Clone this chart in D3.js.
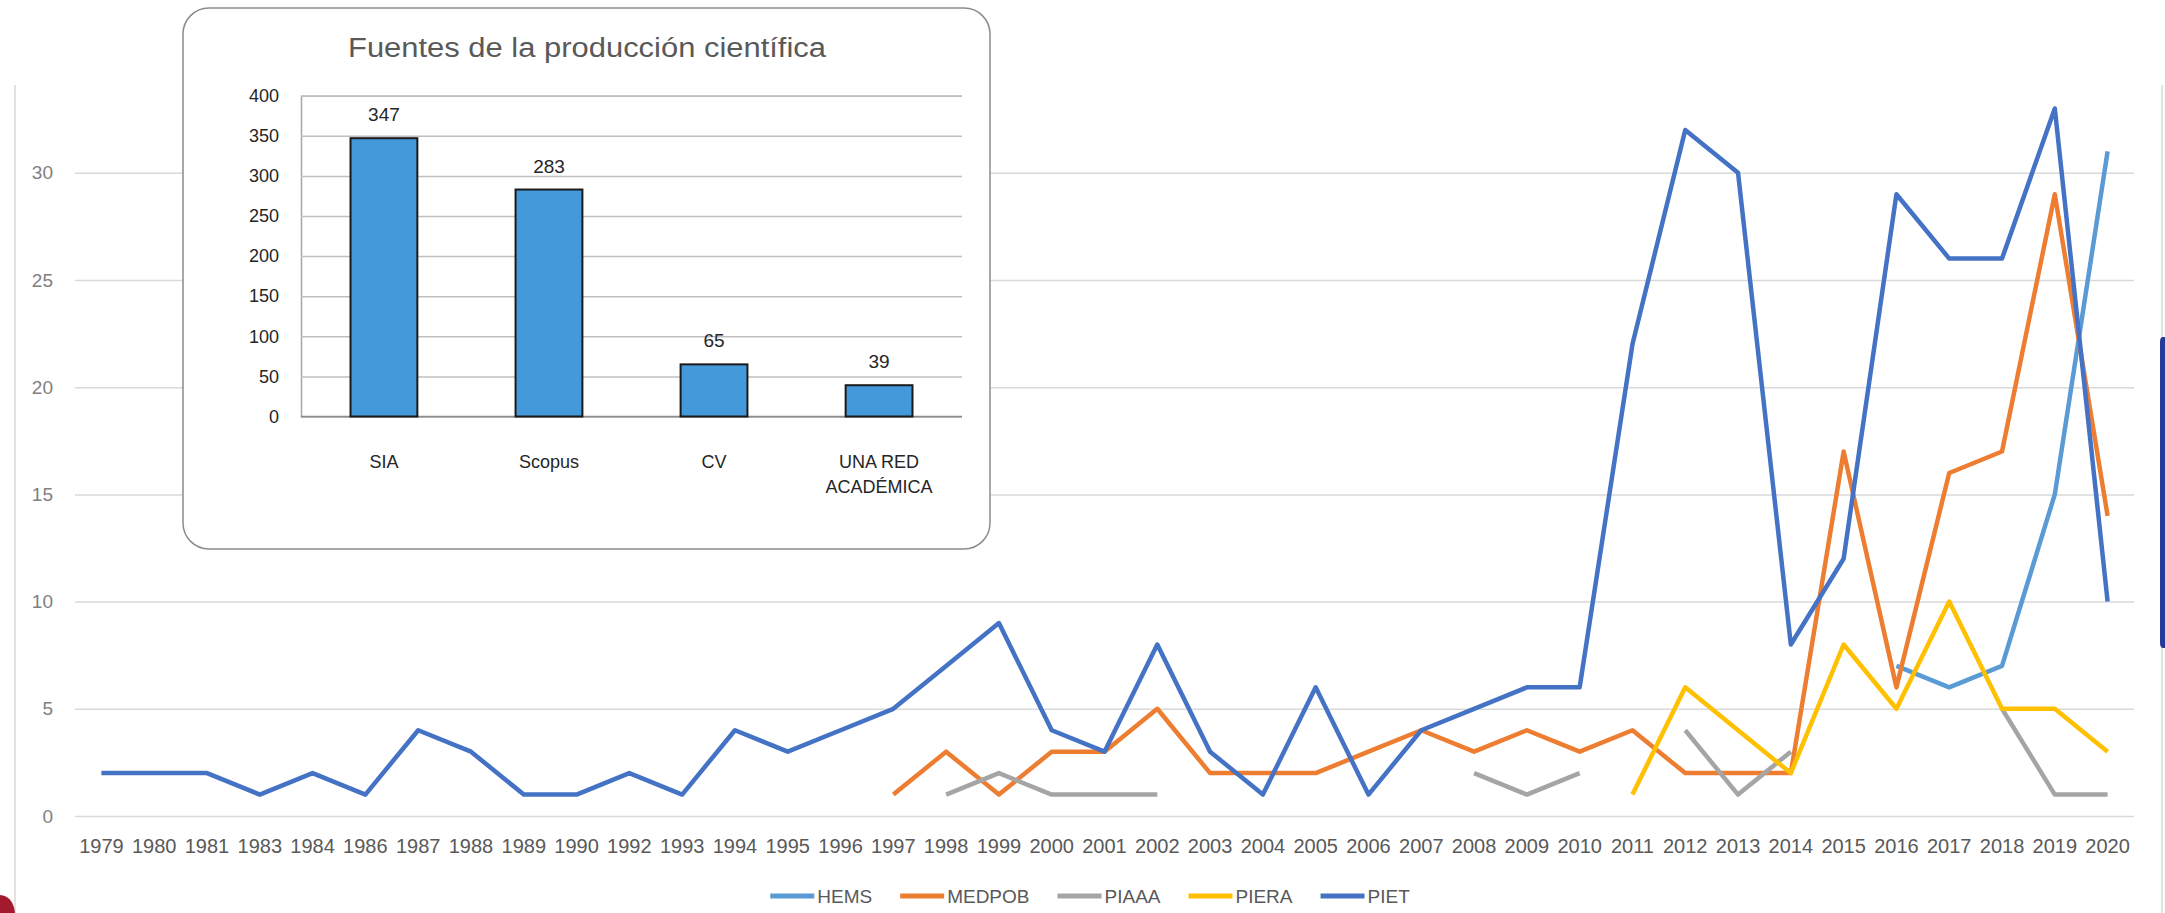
<!DOCTYPE html>
<html>
<head>
<meta charset="utf-8">
<script src="https://cdn.jsdelivr.net/npm/d3@7"></script>
<style>
  body { margin: 0; background: #fff; }
  svg { display: block; }
  text { font-family: "Liberation Sans", Arial, sans-serif; }
</style>
</head>
<body>
<svg id="chart" width="2165" height="913"></svg>
<script>
// ---------- DATA ----------
const years = ["1979","1980","1981","1983","1984","1986","1987","1988","1989","1990",
  "1992","1993","1994","1995","1996","1997","1998","1999","2000","2001","2002","2003",
  "2004","2005","2006","2007","2008","2009","2010","2011","2012","2013","2014","2015",
  "2016","2017","2018","2019","2020"];
const N = null;
const HEMS   = [N,N,N,N,N,N,N,N,N,N, N,N,N,N,N,N,N,N,N,N, N,N,N,N,N,N,N,N,N,N, N,N,N,N, 7,6,7,15,31];
const MEDPOB = [N,N,N,N,N,N,N,N,N,N, N,N,N,N,N, 1,3,1,3,3, 5,2,2,2,3, 4,3,4,3,4, 2,2,2,17,6, 16,17,29,14];
const PIAAA  = [N,N,N,N,N,N,N,N,N,N, N,N,N,N,N,N, 1,2,1,1, 1,N,N,N,N, N,2,1,2,N, 4,1,3,N,N, N,5,1,1];
const PIERA  = [N,N,N,N,N,N,N,N,N,N, N,N,N,N,N,N,N,N,N,N, N,N,N,N,N, N,N,N,N,1, 6,4,2,8,5, 10,5,5,3];
const PIET   = [2,2,2,1,2,1,4,3,1,1, 2,1,4,3,4,5,7,9,4,3, 8,3,1,6,1, 4,5,6,6,22, 32,30,8,12,29, 26,26,33,10];
const seriesNames  = ["HEMS","MEDPOB","PIAAA","PIERA","PIET"];
const seriesValues = [HEMS, MEDPOB, PIAAA, PIERA, PIET];
const seriesColors = ["#5B9BD5","#ED7D31","#A5A5A5","#FFC000","#4472C4"];
const yTicks = [0,5,10,15,20,25,30];

// inset bar chart
const insetTitle = "Fuentes de la producción científica";
const insetCats = ["SIA","Scopus","CV","UNA RED ACADÉMICA"];
const insetVals = [347, 283, 65, 39];
const insetTicks = [0,50,100,150,200,250,300,350,400];

// ---------- DRAW ----------
const svg = d3.select("#chart");

// page decorations (slide edges)
svg.append("line").attr("x1",15).attr("x2",15).attr("y1",85).attr("y2",913)
  .attr("stroke","#d9d9d9").attr("stroke-width",1.5);
svg.append("line").attr("x1",2162).attr("x2",2162).attr("y1",85).attr("y2",913)
  .attr("stroke","#d9d9d9").attr("stroke-width",1.5);
svg.append("path").attr("d","M0,895 Q13,896 15,913 L0,913 Z").attr("fill","#a3192d");
svg.append("path").attr("d","M2165,337 L2163,337 Q2160,337 2160,342 L2160,642 Q2160,648 2163,648 L2165,648 Z")
  .attr("fill","#25399a");

// main scales
const x = d3.scaleBand().domain(years).range([75, 2134]);
const y = d3.scaleLinear().domain([0, 35]).range([816, 65.6]);

// y axis + gridlines
const gy = svg.append("g").attr("transform","translate(75,0)")
  .call(d3.axisLeft(y).tickValues(yTicks).tickSize(-(2134-75)).tickPadding(22).tickFormat(d3.format("d")));
gy.select(".domain").remove();
gy.selectAll(".tick line").attr("stroke","#d9d9d9").attr("stroke-width",1.5);
gy.selectAll(".tick text").attr("fill","#7f7f7f").style("font-size","19px");

// x axis labels
const gx = svg.append("g").attr("transform","translate(0,816)")
  .call(d3.axisBottom(x).tickSize(0).tickPadding(23));
gx.select(".domain").remove();
gx.selectAll(".tick text").attr("fill","#595959").style("font-size","20px");

// lines
const line = d3.line()
  .defined(d => d.v != null)
  .x(d => x(d.year) + x.bandwidth()/2)
  .y(d => y(d.v));

seriesNames.forEach((name, i) => {
  const data = years.map((yr, j) => ({year: yr, v: seriesValues[i][j]}));
  svg.append("path")
    .datum(data)
    .attr("fill","none")
    .attr("stroke", seriesColors[i])
    .attr("stroke-width", 4.5)
    .attr("stroke-linejoin","round")
    .attr("stroke-linecap","butt")
    .attr("d", line);
});

// legend
const lg = svg.append("g");
let lx = 0;
seriesNames.forEach((name, i) => {
  const g = lg.append("g").attr("transform", `translate(${lx},0)`);
  g.append("line").attr("x1",0).attr("x2",44).attr("y1",0).attr("y2",0)
    .attr("stroke", seriesColors[i]).attr("stroke-width",5);
  const t = g.append("text").attr("x",47).attr("y",0).attr("dy","0.35em")
    .attr("fill","#595959").style("font-size","19px").text(name);
  lx += 47 + t.node().getComputedTextLength() + 28;
});
lx -= 28;
lg.attr("transform", `translate(${1090 - lx/2},896)`);

// ---------- INSET ----------
const inset = svg.append("g");
inset.append("rect").attr("x",183).attr("y",8).attr("width",807).attr("height",541)
  .attr("rx",26).attr("ry",26).attr("fill","#fff").attr("stroke","#8c8c8c").attr("stroke-width",1.5);

inset.append("text").attr("x",587).attr("y",57).attr("text-anchor","middle")
  .attr("fill","#595959").style("font-size","27px")
  .attr("textLength",478).attr("lengthAdjust","spacingAndGlyphs")
  .text(insetTitle);

const xi = d3.scaleBand().domain(insetCats).range([301, 962]).paddingInner(0.595).paddingOuter(0.3);
const yi = d3.scaleLinear().domain([0, 400]).range([416.5, 95.7]);

const giy = inset.append("g").attr("transform","translate(301,0)")
  .call(d3.axisLeft(yi).tickValues(insetTicks).tickSize(-(962-301)).tickPadding(22));
giy.select(".domain").attr("stroke","#a6a6a6").attr("stroke-width",1.5);
giy.selectAll(".tick line").attr("stroke","#bfbfbf").attr("stroke-width",1.5);
giy.selectAll(".tick text").attr("fill","#262626").style("font-size","18px");

inset.append("line").attr("x1",301).attr("x2",962).attr("y1",yi(0)).attr("y2",yi(0))
  .attr("stroke","#8c8c8c").attr("stroke-width",1.5);

inset.selectAll("rect.bar").data(insetVals).enter().append("rect")
  .attr("class","bar")
  .attr("x",(d,i)=>xi(insetCats[i]))
  .attr("y",d=>yi(d))
  .attr("width",xi.bandwidth())
  .attr("height",d=>yi(0)-yi(d))
  .attr("fill","#4499DB").attr("stroke","#1a1a1a").attr("stroke-width",2);

inset.selectAll("text.val").data(insetVals).enter().append("text")
  .attr("class","val")
  .attr("x",(d,i)=>xi(insetCats[i]) + xi.bandwidth()/2)
  .attr("y",d=>yi(d) - 17)
  .attr("text-anchor","middle").attr("fill","#262626").style("font-size","19px")
  .text(d=>d);

insetCats.forEach(c => {
  const words = c.split(" ");
  const lines = words.length > 2 ? [words.slice(0,-1).join(" "), words[words.length-1]] : [c];
  const t = inset.append("text").attr("text-anchor","middle").attr("fill","#262626")
    .style("font-size","18px");
  lines.forEach((ln, k) => {
    t.append("tspan").attr("x", xi(c) + xi.bandwidth()/2).attr("y", 468 + k*25).text(ln);
  });
});
</script>
</body>
</html>
